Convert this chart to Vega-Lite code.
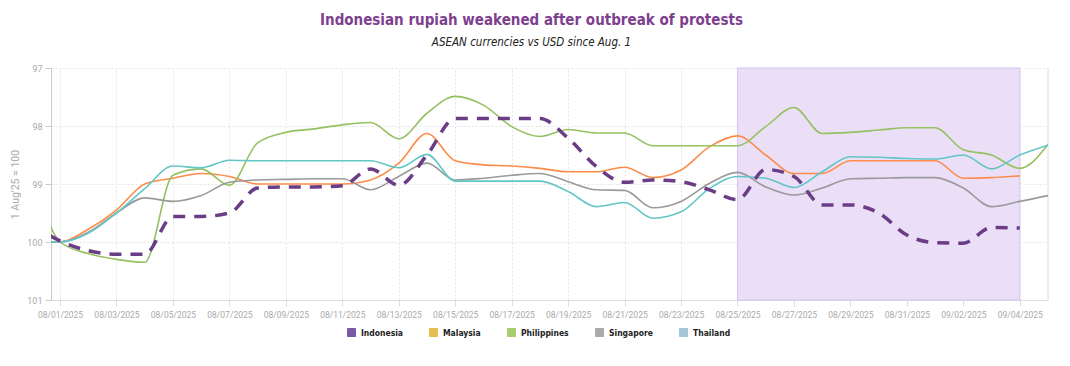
{
  "$schema": "https://vega.github.io/schema/vega-lite/v6.json",
  "width": 997,
  "height": 232,
  "autosize": {"type": "none"},
  "padding": {"left": 51, "top": 68, "right": 22, "bottom": 66},
  "background": "white",
  "config": {"view": {"stroke": null}},
  "title": {
    "text": "Indonesian rupiah weakened after outbreak of protests",
    "subtitle": "ASEAN currencies vs USD since Aug. 1",
    "anchor": "middle",
    "frame": "group",
    "dx": -18,
    "offset": 16,
    "font": "DejaVu Sans Condensed, Roboto",
    "fontSize": 15,
    "fontWeight": "bold",
    "color": "#7d3f8e",
    "subtitleFont": "DejaVu Sans Condensed, Roboto",
    "subtitleFontStyle": "italic",
    "subtitleFontSize": 11.5,
    "subtitleColor": "#222222",
    "subtitlePadding": 9
  },
  "datasets": {
    "fx": [
      {"date":"2025-07-31","country":"Indonesia","value":99.7},
      {"date":"2025-08-01","country":"Indonesia","value":99.98},
      {"date":"2025-08-02","country":"Indonesia","value":100.15},
      {"date":"2025-08-03","country":"Indonesia","value":100.21},
      {"date":"2025-08-04","country":"Indonesia","value":100.21},
      {"date":"2025-08-05","country":"Indonesia","value":99.56},
      {"date":"2025-08-06","country":"Indonesia","value":99.56},
      {"date":"2025-08-07","country":"Indonesia","value":99.5},
      {"date":"2025-08-08","country":"Indonesia","value":99.07},
      {"date":"2025-08-09","country":"Indonesia","value":99.05},
      {"date":"2025-08-10","country":"Indonesia","value":99.05},
      {"date":"2025-08-11","country":"Indonesia","value":99.03},
      {"date":"2025-08-12","country":"Indonesia","value":98.74},
      {"date":"2025-08-13","country":"Indonesia","value":99.02},
      {"date":"2025-08-14","country":"Indonesia","value":98.5},
      {"date":"2025-08-15","country":"Indonesia","value":97.87},
      {"date":"2025-08-16","country":"Indonesia","value":97.87},
      {"date":"2025-08-17","country":"Indonesia","value":97.87},
      {"date":"2025-08-18","country":"Indonesia","value":97.87},
      {"date":"2025-08-19","country":"Indonesia","value":98.21},
      {"date":"2025-08-20","country":"Indonesia","value":98.7},
      {"date":"2025-08-21","country":"Indonesia","value":98.97},
      {"date":"2025-08-22","country":"Indonesia","value":98.93},
      {"date":"2025-08-23","country":"Indonesia","value":98.96},
      {"date":"2025-08-24","country":"Indonesia","value":99.1},
      {"date":"2025-08-25","country":"Indonesia","value":99.27},
      {"date":"2025-08-26","country":"Indonesia","value":98.75},
      {"date":"2025-08-27","country":"Indonesia","value":98.87},
      {"date":"2025-08-28","country":"Indonesia","value":99.36},
      {"date":"2025-08-29","country":"Indonesia","value":99.36},
      {"date":"2025-08-30","country":"Indonesia","value":99.5},
      {"date":"2025-08-31","country":"Indonesia","value":99.88},
      {"date":"2025-09-01","country":"Indonesia","value":100.01},
      {"date":"2025-09-02","country":"Indonesia","value":100.02},
      {"date":"2025-09-03","country":"Indonesia","value":99.75},
      {"date":"2025-09-04","country":"Indonesia","value":99.76},

      {"date":"2025-07-31","country":"Malaysia","value":100},
      {"date":"2025-08-01","country":"Malaysia","value":100},
      {"date":"2025-08-02","country":"Malaysia","value":99.78},
      {"date":"2025-08-03","country":"Malaysia","value":99.45},
      {"date":"2025-08-04","country":"Malaysia","value":99.0},
      {"date":"2025-08-05","country":"Malaysia","value":98.9},
      {"date":"2025-08-06","country":"Malaysia","value":98.82},
      {"date":"2025-08-07","country":"Malaysia","value":98.87},
      {"date":"2025-08-08","country":"Malaysia","value":99.0},
      {"date":"2025-08-09","country":"Malaysia","value":99.0},
      {"date":"2025-08-10","country":"Malaysia","value":99.0},
      {"date":"2025-08-11","country":"Malaysia","value":99.0},
      {"date":"2025-08-12","country":"Malaysia","value":98.93},
      {"date":"2025-08-13","country":"Malaysia","value":98.64},
      {"date":"2025-08-14","country":"Malaysia","value":98.13},
      {"date":"2025-08-15","country":"Malaysia","value":98.6},
      {"date":"2025-08-16","country":"Malaysia","value":98.67},
      {"date":"2025-08-17","country":"Malaysia","value":98.69},
      {"date":"2025-08-18","country":"Malaysia","value":98.73},
      {"date":"2025-08-19","country":"Malaysia","value":98.79},
      {"date":"2025-08-20","country":"Malaysia","value":98.79},
      {"date":"2025-08-21","country":"Malaysia","value":98.71},
      {"date":"2025-08-22","country":"Malaysia","value":98.89},
      {"date":"2025-08-23","country":"Malaysia","value":98.76},
      {"date":"2025-08-24","country":"Malaysia","value":98.36},
      {"date":"2025-08-25","country":"Malaysia","value":98.17},
      {"date":"2025-08-26","country":"Malaysia","value":98.5},
      {"date":"2025-08-27","country":"Malaysia","value":98.82},
      {"date":"2025-08-28","country":"Malaysia","value":98.82},
      {"date":"2025-08-29","country":"Malaysia","value":98.6},
      {"date":"2025-08-30","country":"Malaysia","value":98.6},
      {"date":"2025-08-31","country":"Malaysia","value":98.6},
      {"date":"2025-09-01","country":"Malaysia","value":98.6},
      {"date":"2025-09-02","country":"Malaysia","value":98.9},
      {"date":"2025-09-03","country":"Malaysia","value":98.89},
      {"date":"2025-09-04","country":"Malaysia","value":98.86},

      {"date":"2025-07-31","country":"Philippines","value":98.7},
      {"date":"2025-08-01","country":"Philippines","value":100.0},
      {"date":"2025-08-02","country":"Philippines","value":100.2},
      {"date":"2025-08-03","country":"Philippines","value":100.3},
      {"date":"2025-08-04","country":"Philippines","value":100.35},
      {"date":"2025-08-05","country":"Philippines","value":98.85},
      {"date":"2025-08-06","country":"Philippines","value":98.74},
      {"date":"2025-08-07","country":"Philippines","value":99.02},
      {"date":"2025-08-08","country":"Philippines","value":98.29},
      {"date":"2025-08-09","country":"Philippines","value":98.11},
      {"date":"2025-08-10","country":"Philippines","value":98.05},
      {"date":"2025-08-11","country":"Philippines","value":97.98},
      {"date":"2025-08-12","country":"Philippines","value":97.94},
      {"date":"2025-08-13","country":"Philippines","value":98.22},
      {"date":"2025-08-14","country":"Philippines","value":97.78},
      {"date":"2025-08-15","country":"Philippines","value":97.49},
      {"date":"2025-08-16","country":"Philippines","value":97.64},
      {"date":"2025-08-17","country":"Philippines","value":98.01},
      {"date":"2025-08-18","country":"Philippines","value":98.18},
      {"date":"2025-08-19","country":"Philippines","value":98.06},
      {"date":"2025-08-20","country":"Philippines","value":98.12},
      {"date":"2025-08-21","country":"Philippines","value":98.12},
      {"date":"2025-08-22","country":"Philippines","value":98.34},
      {"date":"2025-08-23","country":"Philippines","value":98.34},
      {"date":"2025-08-24","country":"Philippines","value":98.34},
      {"date":"2025-08-25","country":"Philippines","value":98.34},
      {"date":"2025-08-26","country":"Philippines","value":98.01},
      {"date":"2025-08-27","country":"Philippines","value":97.68},
      {"date":"2025-08-28","country":"Philippines","value":98.13},
      {"date":"2025-08-29","country":"Philippines","value":98.11},
      {"date":"2025-08-30","country":"Philippines","value":98.07},
      {"date":"2025-08-31","country":"Philippines","value":98.03},
      {"date":"2025-09-01","country":"Philippines","value":98.03},
      {"date":"2025-09-02","country":"Philippines","value":98.41},
      {"date":"2025-09-03","country":"Philippines","value":98.5},
      {"date":"2025-09-04","country":"Philippines","value":98.73},
      {"date":"2025-09-05","country":"Philippines","value":98.32},

      {"date":"2025-07-31","country":"Singapore","value":100},
      {"date":"2025-08-01","country":"Singapore","value":100},
      {"date":"2025-08-02","country":"Singapore","value":99.83},
      {"date":"2025-08-03","country":"Singapore","value":99.5},
      {"date":"2025-08-04","country":"Singapore","value":99.24},
      {"date":"2025-08-05","country":"Singapore","value":99.3},
      {"date":"2025-08-06","country":"Singapore","value":99.2},
      {"date":"2025-08-07","country":"Singapore","value":98.97},
      {"date":"2025-08-08","country":"Singapore","value":98.93},
      {"date":"2025-08-09","country":"Singapore","value":98.92},
      {"date":"2025-08-10","country":"Singapore","value":98.91},
      {"date":"2025-08-11","country":"Singapore","value":98.91},
      {"date":"2025-08-12","country":"Singapore","value":99.1},
      {"date":"2025-08-13","country":"Singapore","value":98.87},
      {"date":"2025-08-14","country":"Singapore","value":98.64},
      {"date":"2025-08-15","country":"Singapore","value":98.93},
      {"date":"2025-08-16","country":"Singapore","value":98.9},
      {"date":"2025-08-17","country":"Singapore","value":98.85},
      {"date":"2025-08-18","country":"Singapore","value":98.82},
      {"date":"2025-08-19","country":"Singapore","value":98.96},
      {"date":"2025-08-20","country":"Singapore","value":99.1},
      {"date":"2025-08-21","country":"Singapore","value":99.11},
      {"date":"2025-08-22","country":"Singapore","value":99.41},
      {"date":"2025-08-23","country":"Singapore","value":99.3},
      {"date":"2025-08-24","country":"Singapore","value":98.99},
      {"date":"2025-08-25","country":"Singapore","value":98.8},
      {"date":"2025-08-26","country":"Singapore","value":99.05},
      {"date":"2025-08-27","country":"Singapore","value":99.19},
      {"date":"2025-08-28","country":"Singapore","value":99.07},
      {"date":"2025-08-29","country":"Singapore","value":98.91},
      {"date":"2025-08-30","country":"Singapore","value":98.9},
      {"date":"2025-08-31","country":"Singapore","value":98.89},
      {"date":"2025-09-01","country":"Singapore","value":98.89},
      {"date":"2025-09-02","country":"Singapore","value":99.07},
      {"date":"2025-09-03","country":"Singapore","value":99.39},
      {"date":"2025-09-04","country":"Singapore","value":99.3},
      {"date":"2025-09-05","country":"Singapore","value":99.2},

      {"date":"2025-07-31","country":"Thailand","value":100},
      {"date":"2025-08-01","country":"Thailand","value":100},
      {"date":"2025-08-02","country":"Thailand","value":99.85},
      {"date":"2025-08-03","country":"Thailand","value":99.5},
      {"date":"2025-08-04","country":"Thailand","value":99.08},
      {"date":"2025-08-05","country":"Thailand","value":98.69},
      {"date":"2025-08-06","country":"Thailand","value":98.72},
      {"date":"2025-08-07","country":"Thailand","value":98.59},
      {"date":"2025-08-08","country":"Thailand","value":98.6},
      {"date":"2025-08-09","country":"Thailand","value":98.6},
      {"date":"2025-08-10","country":"Thailand","value":98.6},
      {"date":"2025-08-11","country":"Thailand","value":98.6},
      {"date":"2025-08-12","country":"Thailand","value":98.6},
      {"date":"2025-08-13","country":"Thailand","value":98.72},
      {"date":"2025-08-14","country":"Thailand","value":98.49},
      {"date":"2025-08-15","country":"Thailand","value":98.95},
      {"date":"2025-08-16","country":"Thailand","value":98.95},
      {"date":"2025-08-17","country":"Thailand","value":98.95},
      {"date":"2025-08-18","country":"Thailand","value":98.95},
      {"date":"2025-08-19","country":"Thailand","value":99.13},
      {"date":"2025-08-20","country":"Thailand","value":99.39},
      {"date":"2025-08-21","country":"Thailand","value":99.32},
      {"date":"2025-08-22","country":"Thailand","value":99.59},
      {"date":"2025-08-23","country":"Thailand","value":99.48},
      {"date":"2025-08-24","country":"Thailand","value":99.08},
      {"date":"2025-08-25","country":"Thailand","value":98.87},
      {"date":"2025-08-26","country":"Thailand","value":98.9},
      {"date":"2025-08-27","country":"Thailand","value":99.06},
      {"date":"2025-08-28","country":"Thailand","value":98.79},
      {"date":"2025-08-29","country":"Thailand","value":98.53},
      {"date":"2025-08-30","country":"Thailand","value":98.54},
      {"date":"2025-08-31","country":"Thailand","value":98.56},
      {"date":"2025-09-01","country":"Thailand","value":98.57},
      {"date":"2025-09-02","country":"Thailand","value":98.5},
      {"date":"2025-09-03","country":"Thailand","value":98.74},
      {"date":"2025-09-04","country":"Thailand","value":98.5},
      {"date":"2025-09-05","country":"Thailand","value":98.33}
    ]
  },
  "layer": [
    {
      "data": {"values": [{"start": "2025-08-25", "end": "2025-09-04"}]},
      "mark": {"type": "rect", "fill": "#ebdff8", "stroke": "#d6c3ee", "strokeWidth": 1},
      "encoding": {
        "x": {"field": "start", "type": "temporal", "title": null},
        "x2": {"field": "end"}
      }
    },
    {
      "data": {"values": [{"edge": "2025-09-05"}]},
      "mark": {"type": "rule", "color": "#dddddd", "strokeWidth": 1},
      "encoding": {
        "x": {"field": "edge", "type": "temporal", "title": null}
      }
    },
    {
      "data": {"name": "fx"},
      "transform": [{"filter": "datum.country !== 'Indonesia'"}],
      "mark": {"type": "line", "interpolate": "monotone", "strokeWidth": 1.6, "clip": true},
      "encoding": {
        "x": {
          "field": "date",
          "type": "temporal",
          "title": null,
          "scale": {
            "type": "utc",
            "domain": [
              {"year": 2025, "month": 7, "date": 31, "hours": 16, "minutes": 20, "utc": true},
              {"year": 2025, "month": 9, "date": 5, "utc": true}
            ]
          },
          "axis": {
            "values": [
              {"year": 2025, "month": 8, "date": 1, "utc": true},
              {"year": 2025, "month": 8, "date": 3, "utc": true},
              {"year": 2025, "month": 8, "date": 5, "utc": true},
              {"year": 2025, "month": 8, "date": 7, "utc": true},
              {"year": 2025, "month": 8, "date": 9, "utc": true},
              {"year": 2025, "month": 8, "date": 11, "utc": true},
              {"year": 2025, "month": 8, "date": 13, "utc": true},
              {"year": 2025, "month": 8, "date": 15, "utc": true},
              {"year": 2025, "month": 8, "date": 17, "utc": true},
              {"year": 2025, "month": 8, "date": 19, "utc": true},
              {"year": 2025, "month": 8, "date": 21, "utc": true},
              {"year": 2025, "month": 8, "date": 23, "utc": true},
              {"year": 2025, "month": 8, "date": 25, "utc": true},
              {"year": 2025, "month": 8, "date": 27, "utc": true},
              {"year": 2025, "month": 8, "date": 29, "utc": true},
              {"year": 2025, "month": 8, "date": 31, "utc": true},
              {"year": 2025, "month": 9, "date": 2, "utc": true},
              {"year": 2025, "month": 9, "date": 4, "utc": true}
            ],
            "format": "%m/%d/%Y",
            "labelFont": "Roboto",
            "labelFontSize": 8.5,
            "labelColor": "#aaaaaa",
            "labelPadding": 4,
            "labelOverlap": false,
            "labelFlush": false,
            "tickColor": "#dddddd",
            "tickSize": 6,
            "domainColor": "#dddddd",
            "grid": true,
            "gridColor": "#e4e4e4",
            "gridDash": [2, 2]
          }
        },
        "y": {
          "field": "value",
          "type": "quantitative",
          "scale": {"domain": [97, 101], "reverse": true, "nice": false, "zero": false},
          "axis": {
            "values": [97, 98, 99, 100, 101],
            "format": "d",
            "title": "1 Aug'25 = 100",
            "titleFont": "Roboto",
            "titleFontWeight": "normal",
            "titleFontSize": 10.5,
            "titleColor": "#aaaaaa",
            "titlePadding": 6,
            "labelFont": "Roboto",
            "labelFontSize": 9,
            "labelColor": "#aaaaaa",
            "labelPadding": 3,
            "tickColor": "#cccccc",
            "tickSize": 6,
            "domainColor": "#cccccc",
            "grid": true,
            "gridColor": "#e4e4e4",
            "gridDash": [2, 2]
          }
        },
        "stroke": {
          "field": "country",
          "type": "nominal",
          "scale": {
            "domain": ["Malaysia", "Philippines", "Singapore", "Thailand"],
            "range": ["#fd8c4a", "#96c161", "#9a9a9a", "#63c6c6"]
          },
          "legend": null
        }
      }
    },
    {
      "data": {"name": "fx"},
      "transform": [{"filter": "datum.country === 'Indonesia'"}],
      "mark": {"type": "line", "interpolate": "monotone", "strokeWidth": 3.5, "strokeDash": [12, 9], "color": "#6b3d87", "clip": true},
      "encoding": {
        "x": {"field": "date", "type": "temporal", "title": null},
        "y": {"field": "value", "type": "quantitative"}
      }
    },
    {
      "data": {"name": "fx"},
      "mark": {"type": "square", "size": 0, "opacity": 1},
      "encoding": {
        "x": {"field": "date", "type": "temporal", "title": null},
        "y": {"field": "value", "type": "quantitative"},
        "fill": {
          "field": "country",
          "type": "nominal",
          "scale": {
            "domain": ["Indonesia", "Malaysia", "Philippines", "Singapore", "Thailand"],
            "range": ["#7a58a3", "#e6bd4e", "#a9cc6e", "#aaaaaa", "#a4c6d8"]
          },
          "legend": {
            "orient": "none",
            "legendX": 296,
            "legendY": 260,
            "direction": "horizontal",
            "title": null,
            "symbolType": "M -0.75 -1 H 0.75 A 0.25 0.25 0 0 1 1 -0.75 V 0.75 A 0.25 0.25 0 0 1 0.75 1 H -0.75 A 0.25 0.25 0 0 1 -1 0.75 V -0.75 A 0.25 0.25 0 0 1 -0.75 -1 Z",
            "symbolSize": 81,
            "symbolOpacity": 1,
            "symbolStrokeWidth": 0,
            "labelFont": "DejaVu Sans Condensed, Roboto",
            "labelFontWeight": "bold",
            "labelFontSize": 8.5,
            "labelColor": "#222222",
            "labelOffset": 5,
            "columnPadding": 26
          }
        }
      }
    }
  ]
}
